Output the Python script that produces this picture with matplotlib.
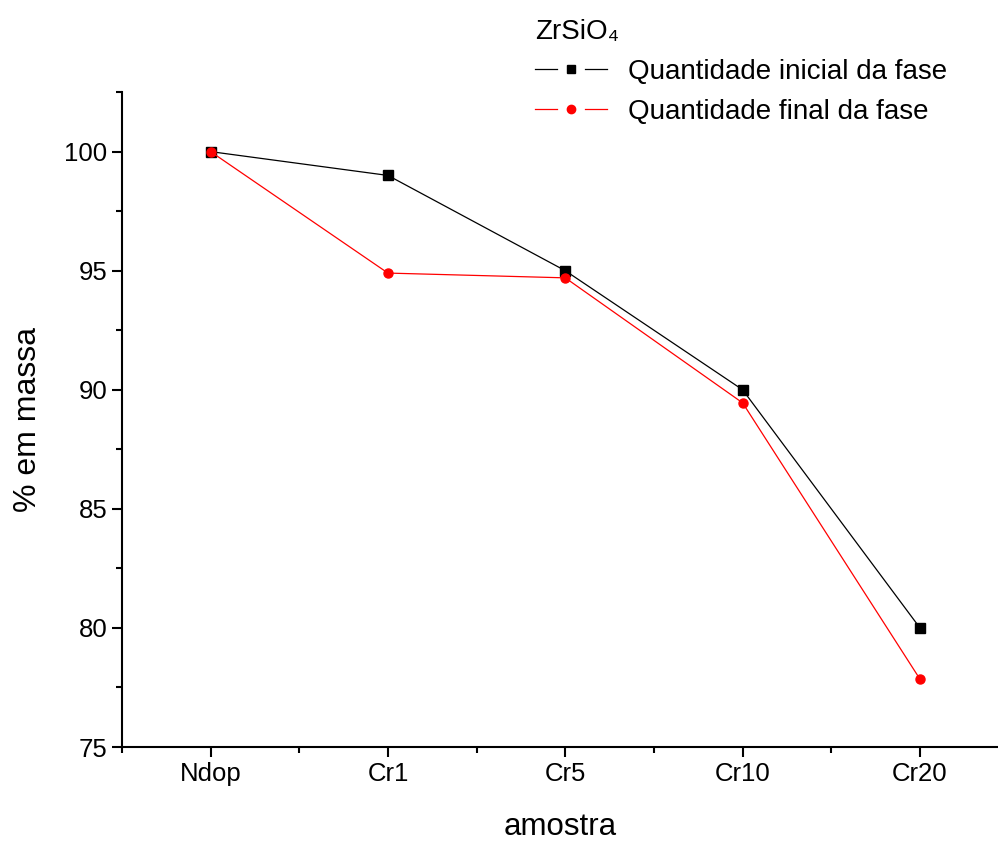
import matplotlib
matplotlib.use("Agg")
import matplotlib.pyplot as plt
from matplotlib.ticker import MultipleLocator
from matplotlib.lines import Line2D
from matplotlib.legend_handler import HandlerBase

plt.rcParams['font.family'] = ['Liberation Sans', 'DejaVu Sans']

categories = ["Ndop", "Cr1", "Cr5", "Cr10", "Cr20"]
inicial = [100, 99, 95, 90, 80]
final = [100, 94.9, 94.7, 89.45, 77.85]

fig = plt.figure(figsize=(9.98, 8.44), dpi=100)
ax = fig.add_axes([0.1222, 0.1149, 0.8778, 0.776])

x = list(range(len(categories)))
l1, = ax.plot(x, inicial, color="black", lw=0.9, marker="s", ms=6.5)
l2, = ax.plot(x, final, color="red", lw=0.9, marker="o", ms=6.5)

ax.set_xlim(-0.5, 4.44)
ax.set_ylim(75, 102.5)
ax.set_xticks(x)
ax.set_xticklabels(categories)
ax.set_xticks([i + 0.5 for i in range(-1, 4)], minor=True)
ax.yaxis.set_major_locator(MultipleLocator(5))
ax.yaxis.set_minor_locator(MultipleLocator(2.5))

for s in ["top", "right"]:
    ax.spines[s].set_visible(False)
for s in ["left", "bottom"]:
    ax.spines[s].set_linewidth(1.5)
ax.tick_params(which="major", direction="out", length=7, width=1.5, labelsize=18.5)
ax.tick_params(which="minor", direction="out", length=4, width=1.5)
ax.set_xlabel("amostra", fontsize=22.5, labelpad=19)
ax.set_ylabel("% em massa", fontsize=23, labelpad=15)


class GapHandler(HandlerBase):
    def create_artists(self, legend, orig_handle, xdescent, ydescent,
                       width, height, fontsize, trans):
        c = orig_handle.get_color()
        mkr = orig_handle.get_marker()
        y = height / 2 - ydescent
        x0 = -xdescent
        seg = 0.31 * width
        a = Line2D([x0, x0 + seg], [y, y], color=c, lw=0.9)
        b = Line2D([x0 + width - seg, x0 + width], [y, y], color=c, lw=0.9)
        m = Line2D([x0 + width / 2], [y], color=c, lw=0, marker=mkr, ms=6)
        for art in (a, b, m):
            art.set_transform(trans)
        return [a, b, m]


labels = ["Quantidade inicial da fase", "Quantidade final da fase"]
leg = fig.legend([l1, l2], labels, title="ZrSiO₄", loc="upper left",
                 bbox_to_anchor=(535 / 998, 1 - 19 / 844),
                 frameon=False, fontsize=20, title_fontsize=20,
                 handlelength=2.6, handletextpad=0.75, labelspacing=0.5,
                 borderpad=0, borderaxespad=0, alignment="left",
                 handler_map={Line2D: GapHandler()})

fig.savefig("out.png", dpi=100)
